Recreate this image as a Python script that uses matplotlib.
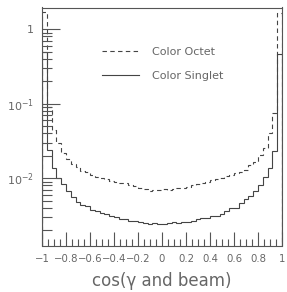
import numpy as np
import matplotlib
matplotlib.use("Agg")
import matplotlib.pyplot as plt
from matplotlib.ticker import LogLocator, FixedLocator, MultipleLocator, FuncFormatter, NullFormatter

# ---- data ----
bin_edges = np.linspace(-1.0, 1.0, 51)
singlet = [0.50, 0.024, 0.0136, 0.0100, 0.0083, 0.0068, 0.0056, 0.0048, 0.0044, 0.0042,
           0.0038, 0.0036, 0.0034, 0.0033, 0.0031, 0.0030, 0.0028, 0.0028, 0.0027, 0.0027,
           0.0026, 0.0025, 0.0024, 0.0025, 0.0024,
           0.0024, 0.0025, 0.0026, 0.0025, 0.0026, 0.0026, 0.0027, 0.0028, 0.0029, 0.0029,
           0.0031, 0.0031, 0.0033, 0.0036, 0.0040, 0.0040, 0.0046, 0.0052, 0.0057, 0.0068,
           0.0081, 0.0103, 0.0136, 0.0234, 0.46]
octet = [1.70, 0.090, 0.045, 0.030, 0.022, 0.018, 0.0155, 0.0140, 0.0125, 0.0120,
         0.0110, 0.0105, 0.0100, 0.0097, 0.0093, 0.0090, 0.0087, 0.0085, 0.0080, 0.0078,
         0.0075, 0.0072, 0.0068, 0.0069, 0.0070,
         0.0071, 0.0070, 0.0071, 0.0073, 0.0075, 0.0077, 0.0080, 0.0084, 0.0086, 0.0090,
         0.0094, 0.0097, 0.0100, 0.0106, 0.0110, 0.0117, 0.0122, 0.0128, 0.0150, 0.0164,
         0.0204, 0.0253, 0.040, 0.075, 1.64]
labels = ["Color Octet", "Color Singlet"]
x_ticks = [-1, -0.8, -0.6, -0.4, -0.2, 0, 0.2, 0.4, 0.6, 0.8, 1]
x_ticklabels = ["\u22121", "\u22120.8", "\u22120.6", "\u22120.4", "\u22120.2", "0", "0.2", "0.4", "0.6", "0.8", "1"]
xlabel = "cos(\u03b3 and beam)"

# ---- style ----
plt.rcParams['font.family'] = ['DejaVu Sans']
axcol = '#555555'
txtcol = '#666666'
linecol = '#444444'

fig = plt.figure(figsize=(2.87, 2.92), dpi=100)
ax = fig.add_axes([42/287, 1-245.5/292, 240/287, 238/292])

ax.stairs(octet, bin_edges, color=linecol, lw=0.8, linestyle=(0, (4, 3)), label=labels[0])
ax.stairs(singlet, bin_edges, color=linecol, lw=0.8, label=labels[1])

ax.set_yscale('log')
ax.set_xlim(-1, 1)
ax.set_ylim(1.25e-3, 1.96)

for s in ax.spines.values():
    s.set_color(axcol)
    s.set_linewidth(0.8)

ax.xaxis.set_major_locator(FixedLocator(x_ticks))
ax.set_xticklabels(x_ticklabels)
ax.xaxis.set_minor_locator(MultipleLocator(0.05))
ax.yaxis.set_major_locator(LogLocator(base=10, numticks=10))
ax.yaxis.set_minor_locator(LogLocator(base=10, subs=np.arange(2, 10), numticks=20))
ax.yaxis.set_minor_formatter(NullFormatter())

def yfmt(v, pos):
    e = int(round(np.log10(v)))
    if e == 0:
        return "1"
    return r"$\mathregular{10^{%d}}$" % e
ax.yaxis.set_major_formatter(FuncFormatter(yfmt))

ax.tick_params(axis='x', which='major', direction='in', length=10, width=0.8, color=axcol,
               labelsize=7.3, labelcolor=txtcol, pad=6, top=False)
ax.tick_params(axis='x', which='minor', direction='in', length=5, width=0.8, color=axcol, top=False)
ax.tick_params(axis='y', which='major', direction='in', length=13, width=0.8, color=axcol,
               labelsize=8, labelcolor=txtcol, pad=6, right=False)
ax.tick_params(axis='y', which='minor', direction='in', length=7, width=0.8, color=axcol, right=False)

ax.set_xlabel(xlabel, fontsize=12, color=txtcol, labelpad=6)

leg = ax.legend(loc='upper left', bbox_to_anchor=(0.25, 0.835), frameon=False,
                fontsize=8, handlelength=3.3, handletextpad=1.2, labelspacing=1.25,
                borderpad=0, borderaxespad=0)
for t in leg.get_texts():
    t.set_color(txtcol)

fig.savefig("out.png", dpi=100)
